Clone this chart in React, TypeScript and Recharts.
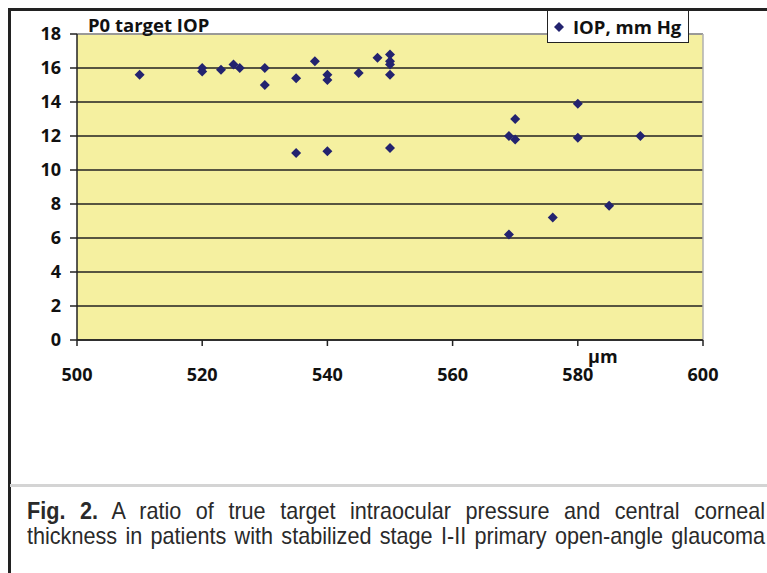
import React from 'react';
import { ScatterChart, Scatter, XAxis, YAxis, CartesianGrid, ReferenceLine } from 'recharts';

const cct = [510, 520, 520, 523, 525, 526, 530, 530, 535, 535, 538, 540, 540, 540, 545, 548, 550, 550, 550, 550, 550, 569, 570, 570, 580, 580, 590, 569, 576, 585];
const iop = [15.6, 16.0, 15.8, 15.9, 16.2, 16.0, 16.0, 15.0, 15.4, 11.0, 16.4, 15.6, 15.3, 11.1, 15.7, 16.6, 16.8, 16.4, 16.2, 15.6, 11.3, 12.0, 13.0, 11.8, 13.9, 11.9, 12.0, 6.2, 7.2, 7.9];
const xTicks = [500, 520, 540, 560, 580, 600];
const yTicks = [0, 2, 4, 6, 8, 10, 12, 14, 16, 18];
const seriesName = 'IOP, mm Hg';
const chartTitle = 'P0 target IOP';
const xUnit = 'µm';
const captionBold = 'Fig. 2.';
const captionLine1 = ' A ratio of true target intraocular pressure and central corneal';
const captionLine2 = 'thickness in patients with stabilized stage I-II primary open-angle glaucoma';

const data = cct.map((x, i) => ({ x, y: iop[i] }));

const MARK = '#23236f';
const FONT = '"Open Sans", sans-serif';

const Diamond = (props: any) => {
  const { cx, cy } = props;
  if (cx == null || cy == null) return null;
  const r = 5;
  return <polygon points={`${cx},${cy - r} ${cx + r},${cy} ${cx},${cy + r} ${cx - r},${cy}`} fill={MARK} />;
};

const tickStyle = { fill: '#111', fontSize: 18, fontWeight: 700, fontFamily: FONT };

const SCALE = 0.9;

export default function App() {
  return (
    <div style={{ position: 'relative', width: 767, height: 573, background: '#fff', overflow: 'hidden' }}>
      <style>{`body{margin:0}`}</style>
      <ScatterChart width={767} height={573} margin={{ top: 34, right: 64, bottom: 193, left: 0 }}>
        <CartesianGrid vertical={false} stroke="#222" strokeWidth={1.5} fill="#F5F0A0" />
        <XAxis
          type="number"
          dataKey="x"
          domain={[500, 600]}
          ticks={xTicks}
          height={40}
          tickSize={6}
          tickMargin={22}
          axisLine={{ stroke: '#222', strokeWidth: 1.5 }}
          tickLine={{ stroke: '#222', strokeWidth: 1.5 }}
          tick={tickStyle}
          interval={0}
        />
        <YAxis
          type="number"
          dataKey="y"
          domain={[0, 18]}
          ticks={yTicks}
          width={77}
          tickSize={7}
          tickMargin={9}
          axisLine={{ stroke: '#222', strokeWidth: 1.5 }}
          tickLine={{ stroke: '#222', strokeWidth: 1.5 }}
          tick={tickStyle}
          interval={0}
        />
        <ReferenceLine y={18} stroke="#b0b0b0" strokeWidth={1.5} />
        <ReferenceLine x={600} stroke="#b0b0b0" strokeWidth={1.5} />
        <Scatter name={seriesName} data={data} shape={<Diamond />} isAnimationActive={false} />
      </ScatterChart>

      {/* outer frame */}
      <div style={{ position: 'absolute', left: 8, top: 8, width: 759, height: 2.5, background: '#222' }} />
      <div style={{ position: 'absolute', left: 8, top: 8, width: 2.5, height: 565, background: '#222' }} />
      <div style={{ position: 'absolute', left: 10, top: 484, width: 757, height: 3, background: '#d4d4d4' }} />

      {/* title */}
      <div style={{ position: 'absolute', left: 88, top: 13, fontFamily: FONT, fontWeight: 700, fontSize: 18.5, lineHeight: '24px', color: '#111', whiteSpace: 'nowrap' }}>
        {chartTitle}
      </div>

      {/* x unit */}
      <div style={{ position: 'absolute', left: 588, top: 345, fontFamily: FONT, fontWeight: 700, fontSize: 18, lineHeight: '22px', color: '#111' }}>
        {xUnit}
      </div>

      {/* legend */}
      <div style={{ position: 'absolute', left: 547, top: 10, width: 140, height: 31, border: '1.5px solid #222', background: '#fff', display: 'flex', alignItems: 'center', fontFamily: FONT, fontWeight: 700, fontSize: 18.5, color: '#111', whiteSpace: 'nowrap' }}>
        <svg width={14} height={14} style={{ marginLeft: 4, marginRight: 7 }}>
          <polygon points="7,2 12,7 7,12 2,7" fill={MARK} />
        </svg>
        {seriesName}
      </div>

      {/* caption */}
      <div style={{ position: 'absolute', left: 27, top: 498, width: 738 / SCALE, transform: `scaleX(${SCALE})`, transformOrigin: '0 0', fontFamily: '"Liberation Sans", Arial, sans-serif', fontSize: 24, lineHeight: '25px', color: '#2a2a2a' }}>
        <div style={{ height: 25, textAlign: 'justify', textAlignLast: 'justify', whiteSpace: 'nowrap' }}>
          <b>{captionBold}</b>{captionLine1}
        </div>
        <div style={{ height: 25, textAlign: 'justify', textAlignLast: 'justify', whiteSpace: 'nowrap' }}>
          {captionLine2}
        </div>
      </div>
    </div>
  );
}
